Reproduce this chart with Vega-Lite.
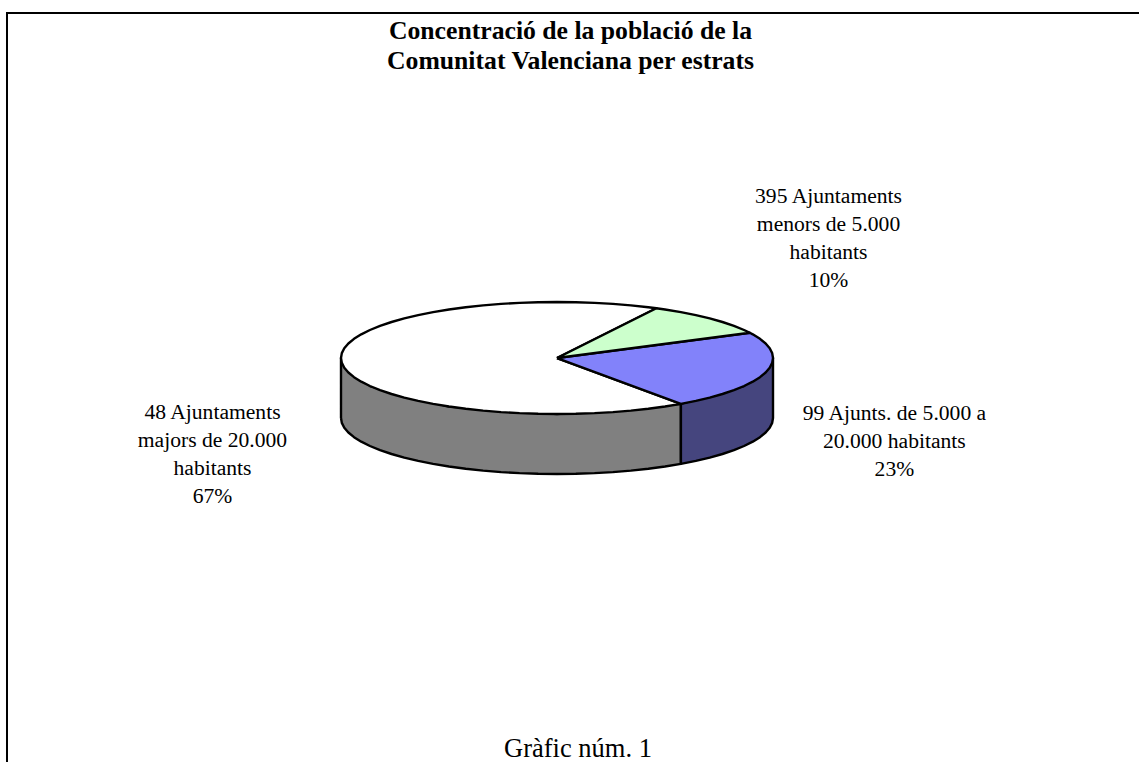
{"$schema":"https://vega.github.io/schema/vega-lite/v6.json","width":1139,"height":762,"autosize":{"type":"none"},"padding":0,"background":"white","view":{"stroke":null},
"title":{"text":["Concentració de la població de la","Comunitat Valenciana per estrats"],"font":"Liberation Serif","fontSize":25.7,"fontWeight":"bold","color":"black","anchor":"middle","lineHeight":30,"baseline":"top","offset":0,"dx":1,"dy":75},
"datasets":{
"frame":[{"i":0,"x":-2.5463,"y":-7.2143},{"i":1,"x":-2.5463,"y":6.1607},{"i":2,"x":2.6944,"y":6.1607}],
"pie":[
{"part":"side67","i":0,"x":-1,"y":-1.0714},{"part":"side67","i":1,"x":-0.9962,"y":-1.1586},{"part":"side67","i":2,"x":-0.9848,"y":-1.245},{"part":"side67","i":3,"x":-0.9659,"y":-1.3302},{"part":"side67","i":4,"x":-0.9397,"y":-1.4134},{"part":"side67","i":5,"x":-0.9063,"y":-1.494},{"part":"side67","i":6,"x":-0.866,"y":-1.5714},{"part":"side67","i":7,"x":-0.8192,"y":-1.645},{"part":"side67","i":8,"x":-0.766,"y":-1.7142},{"part":"side67","i":9,"x":-0.7071,"y":-1.7785},{"part":"side67","i":10,"x":-0.6428,"y":-1.8374},{"part":"side67","i":11,"x":-0.5736,"y":-1.8906},{"part":"side67","i":12,"x":-0.5,"y":-1.9374},{"part":"side67","i":13,"x":-0.4226,"y":-1.9777},{"part":"side67","i":14,"x":-0.342,"y":-2.0111},{"part":"side67","i":15,"x":-0.2588,"y":-2.0373},{"part":"side67","i":16,"x":-0.1736,"y":-2.0562},{"part":"side67","i":17,"x":-0.0872,"y":-2.0676},{"part":"side67","i":18,"x":0,"y":-2.0714},{"part":"side67","i":19,"x":0.0872,"y":-2.0676},{"part":"side67","i":20,"x":0.1736,"y":-2.0562},{"part":"side67","i":21,"x":0.2588,"y":-2.0373},{"part":"side67","i":22,"x":0.342,"y":-2.0111},{"part":"side67","i":23,"x":0.4226,"y":-1.9777},{"part":"side67","i":24,"x":0.5,"y":-1.9374},{"part":"side67","i":25,"x":0.5736,"y":-1.8906},{"part":"side67","i":26,"x":0.5736,"y":-0.8192},{"part":"side67","i":27,"x":0,"y":-1},{"part":"side67","i":28,"x":-0.5,"y":-0.866},{"part":"side67","i":29,"x":-0.866,"y":-0.5},{"part":"side67","i":30,"x":-1,"y":0},{"part":"side67","i":31,"x":-1,"y":-1.0714},
{"part":"side23","i":0,"x":0.5736,"y":-1.8906},{"part":"side23","i":1,"x":0.6428,"y":-1.8374},{"part":"side23","i":2,"x":0.7071,"y":-1.7785},{"part":"side23","i":3,"x":0.766,"y":-1.7142},{"part":"side23","i":4,"x":0.8192,"y":-1.645},{"part":"side23","i":5,"x":0.866,"y":-1.5714},{"part":"side23","i":6,"x":0.9063,"y":-1.494},{"part":"side23","i":7,"x":0.9397,"y":-1.4134},{"part":"side23","i":8,"x":0.9659,"y":-1.3302},{"part":"side23","i":9,"x":0.9848,"y":-1.245},{"part":"side23","i":10,"x":0.9962,"y":-1.1586},{"part":"side23","i":11,"x":1,"y":-1.0714},{"part":"side23","i":12,"x":1,"y":0},{"part":"side23","i":13,"x":0.866,"y":-0.5},{"part":"side23","i":14,"x":0.5736,"y":-0.8192},{"part":"side23","i":15,"x":0.5736,"y":-1.8906},
{"part":"top67","i":0,"x":0,"y":0},{"part":"top67","i":1,"x":0.4602,"y":0.8878},{"part":"top67","i":2,"x":0.4226,"y":0.9063},{"part":"top67","i":3,"x":0.342,"y":0.9397},{"part":"top67","i":4,"x":0.2588,"y":0.9659},{"part":"top67","i":5,"x":0.1736,"y":0.9848},{"part":"top67","i":6,"x":0.0872,"y":0.9962},{"part":"top67","i":7,"x":0,"y":1},{"part":"top67","i":8,"x":-0.0872,"y":0.9962},{"part":"top67","i":9,"x":-0.1736,"y":0.9848},{"part":"top67","i":10,"x":-0.2588,"y":0.9659},{"part":"top67","i":11,"x":-0.342,"y":0.9397},{"part":"top67","i":12,"x":-0.4226,"y":0.9063},{"part":"top67","i":13,"x":-0.5,"y":0.866},{"part":"top67","i":14,"x":-0.5736,"y":0.8192},{"part":"top67","i":15,"x":-0.6428,"y":0.766},{"part":"top67","i":16,"x":-0.7071,"y":0.7071},{"part":"top67","i":17,"x":-0.766,"y":0.6428},{"part":"top67","i":18,"x":-0.8192,"y":0.5736},{"part":"top67","i":19,"x":-0.866,"y":0.5},{"part":"top67","i":20,"x":-0.9063,"y":0.4226},{"part":"top67","i":21,"x":-0.9397,"y":0.342},{"part":"top67","i":22,"x":-0.9659,"y":0.2588},{"part":"top67","i":23,"x":-0.9848,"y":0.1736},{"part":"top67","i":24,"x":-0.9962,"y":0.0872},{"part":"top67","i":25,"x":-1,"y":0},{"part":"top67","i":26,"x":-0.9962,"y":-0.0872},{"part":"top67","i":27,"x":-0.9848,"y":-0.1736},{"part":"top67","i":28,"x":-0.9659,"y":-0.2588},{"part":"top67","i":29,"x":-0.9397,"y":-0.342},{"part":"top67","i":30,"x":-0.9063,"y":-0.4226},{"part":"top67","i":31,"x":-0.866,"y":-0.5},{"part":"top67","i":32,"x":-0.8192,"y":-0.5736},{"part":"top67","i":33,"x":-0.766,"y":-0.6428},{"part":"top67","i":34,"x":-0.7071,"y":-0.7071},{"part":"top67","i":35,"x":-0.6428,"y":-0.766},{"part":"top67","i":36,"x":-0.5736,"y":-0.8192},{"part":"top67","i":37,"x":-0.5,"y":-0.866},{"part":"top67","i":38,"x":-0.4226,"y":-0.9063},{"part":"top67","i":39,"x":-0.342,"y":-0.9397},{"part":"top67","i":40,"x":-0.2588,"y":-0.9659},{"part":"top67","i":41,"x":-0.1736,"y":-0.9848},{"part":"top67","i":42,"x":-0.0872,"y":-0.9962},{"part":"top67","i":43,"x":0,"y":-1},{"part":"top67","i":44,"x":0.0872,"y":-0.9962},{"part":"top67","i":45,"x":0.1736,"y":-0.9848},{"part":"top67","i":46,"x":0.2588,"y":-0.9659},{"part":"top67","i":47,"x":0.342,"y":-0.9397},{"part":"top67","i":48,"x":0.4226,"y":-0.9063},{"part":"top67","i":49,"x":0.5,"y":-0.866},{"part":"top67","i":50,"x":0.5736,"y":-0.8192},{"part":"top67","i":51,"x":0,"y":0},
{"part":"top23","i":0,"x":0,"y":0},{"part":"top23","i":1,"x":0.5736,"y":-0.8192},{"part":"top23","i":2,"x":0.6428,"y":-0.766},{"part":"top23","i":3,"x":0.7071,"y":-0.7071},{"part":"top23","i":4,"x":0.766,"y":-0.6428},{"part":"top23","i":5,"x":0.8192,"y":-0.5736},{"part":"top23","i":6,"x":0.866,"y":-0.5},{"part":"top23","i":7,"x":0.9063,"y":-0.4226},{"part":"top23","i":8,"x":0.9397,"y":-0.342},{"part":"top23","i":9,"x":0.9659,"y":-0.2588},{"part":"top23","i":10,"x":0.9848,"y":-0.1736},{"part":"top23","i":11,"x":0.9962,"y":-0.0872},{"part":"top23","i":12,"x":1,"y":0},{"part":"top23","i":13,"x":0.9962,"y":0.0872},{"part":"top23","i":14,"x":0.9848,"y":0.1736},{"part":"top23","i":15,"x":0.9659,"y":0.2588},{"part":"top23","i":16,"x":0.9397,"y":0.342},{"part":"top23","i":17,"x":0.9063,"y":0.4226},{"part":"top23","i":18,"x":0.8926,"y":0.4509},{"part":"top23","i":19,"x":0,"y":0},
{"part":"top10","i":0,"x":0,"y":0},{"part":"top10","i":1,"x":0.8926,"y":0.4509},{"part":"top10","i":2,"x":0.866,"y":0.5},{"part":"top10","i":3,"x":0.8192,"y":0.5736},{"part":"top10","i":4,"x":0.766,"y":0.6428},{"part":"top10","i":5,"x":0.7071,"y":0.7071},{"part":"top10","i":6,"x":0.6428,"y":0.766},{"part":"top10","i":7,"x":0.5736,"y":0.8192},{"part":"top10","i":8,"x":0.5,"y":0.866},{"part":"top10","i":9,"x":0.4602,"y":0.8878},{"part":"top10","i":10,"x":0,"y":0}
],
"labels":[
{"label":"395 Ajuntaments\nmenors de 5.000\nhabitants\n10%","x":1.257,"y":2.875},
{"label":"99 Ajunts. de 5.000 a\n20.000 habitants\n23%","x":1.562,"y":-1.0},
{"label":"48 Ajuntaments\nmajors de 20.000\nhabitants\n67%","x":-1.595,"y":-0.982}
],
"caption":[{"label":"Gràfic núm. 1","x":0.097,"y":-6.98}]
},
"layer":[
{"data":{"name":"frame"},"mark":{"type":"line","stroke":"black","strokeWidth":2,"clip":false},
"encoding":{"x":{"field":"x","type":"quantitative","scale":{"domain":[-2.5787,2.6944],"nice":false,"zero":false},"axis":null},"y":{"field":"y","type":"quantitative","scale":{"domain":[-7.2143,6.3929],"nice":false,"zero":false},"axis":null},"order":{"field":"i","type":"quantitative"}}},
{"data":{"name":"pie"},"mark":{"type":"line","stroke":"black","strokeWidth":2.4,"strokeJoin":"round"},
"encoding":{"x":{"field":"x","type":"quantitative"},"y":{"field":"y","type":"quantitative"},"order":{"field":"i","type":"quantitative"},"detail":{"field":"part"},
"fill":{"field":"part","type":"nominal","sort":["side67","side23","top67","top23","top10"],"scale":{"domain":["side67","side23","top67","top23","top10"],"range":["#808080","#45457E","#FFFFFF","#8282FA","#CCFFCC"]},"legend":null}}},
{"data":{"name":"labels"},"mark":{"type":"text","font":"Liberation Serif","fontSize":21.6,"lineBreak":"\n","lineHeight":28,"align":"center","baseline":"middle","color":"black"},
"encoding":{"x":{"field":"x","type":"quantitative"},"y":{"field":"y","type":"quantitative"},"text":{"field":"label"}}},
{"data":{"name":"caption"},"mark":{"type":"text","font":"Liberation Serif","fontSize":26.5,"align":"center","baseline":"middle","color":"black"},
"encoding":{"x":{"field":"x","type":"quantitative"},"y":{"field":"y","type":"quantitative"},"text":{"field":"label"}}}
]}
